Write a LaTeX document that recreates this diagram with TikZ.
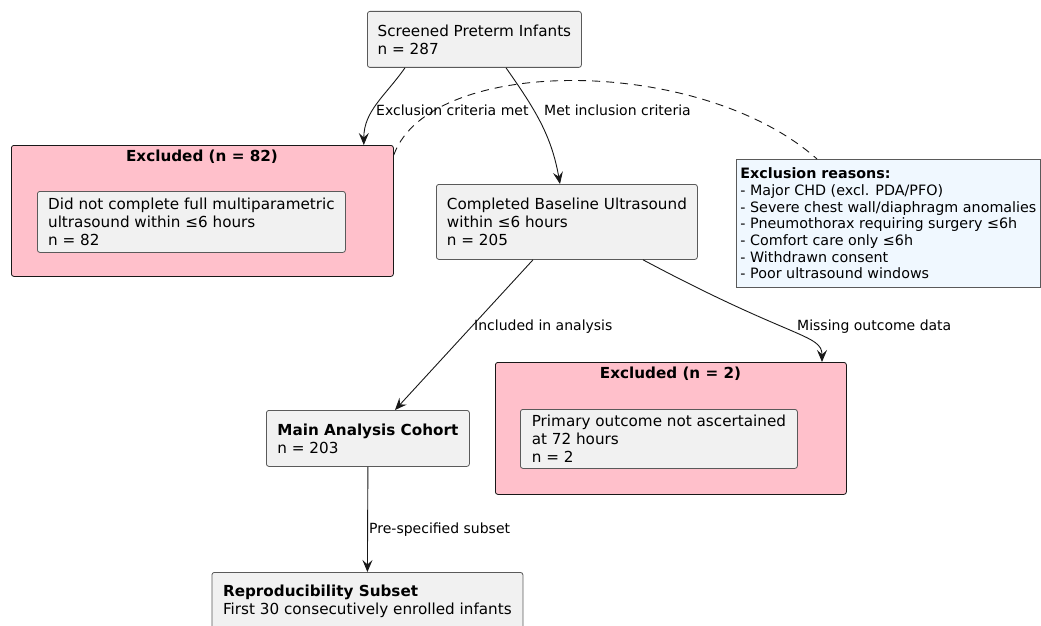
\documentclass[tikz,border=0pt]{standalone}
\usepackage{fontspec}
\setmainfont{DejaVu Sans}
\usetikzlibrary{calc}
\usetikzlibrary{arrows.meta}

\definecolor{boxfill}{HTML}{F1F1F1}
\definecolor{boxline}{HTML}{5A5A5A}
\definecolor{exclfill}{HTML}{FFC0CB}
\definecolor{notefill}{HTML}{F0F8FF}
\definecolor{flowline}{HTML}{181818}

\tikzset{
  box/.style={draw=boxline, fill=boxfill, rounded corners=2.5pt, line width=0.8pt,
    align=left, anchor=north west, inner sep=0pt, font=\fontsize{15.2}{18}\selectfont},
  exclbox/.style={draw=flowline, fill=exclfill, rounded corners=2.5pt, line width=0.8pt,
    anchor=north west, inner sep=0pt},
  notebox/.style={draw=boxline, fill=notefill, line width=0.8pt, align=left,
    anchor=north west, inner sep=0pt, font=\fontsize{14.3}{16.7}\selectfont},
  title/.style={font=\fontsize{15.2}{18}\selectfont\bfseries, inner sep=0pt},
  lbl/.style={font=\fontsize{14}{16}\selectfont, anchor=west, inner sep=0pt},
  flow/.style={draw=flowline, line width=0.9pt, -{Stealth[length=12pt,width=10pt,inset=4.5pt]}}
}

\begin{document}
\begin{tikzpicture}[x=1pt,y=1pt]
    \useasboundingbox (0,0) rectangle (1041,-626);

    \node[box, minimum width=214pt, minimum height=56pt] (scr) at (367,-11)
        {Screened Preterm Infants\\n = 287};

    \node[exclbox, minimum width=382pt, minimum height=131pt] (ex82) at (11,-145) {};
    \node[title] (ex82title) at (202,-157) {Excluded (n = 82)};
    \node[box, minimum width=308pt, minimum height=61pt] (ex82in) at (37,-191)
        {Did not complete full multiparametric\\ultrasound within ≤6 hours\\n = 82};

    \node[box, minimum width=261pt, minimum height=75pt] (comp) at (436,-184)
        {Completed Baseline Ultrasound\\within ≤6 hours\\n = 205};

    \node[notebox, minimum width=304pt, minimum height=128pt] (note) at (736,-159)
        {\textbf{Exclusion reasons:}\\- Major CHD (excl. PDA/PFO)\\- Severe chest wall/diaphragm anomalies\\- Pneumothorax requiring surgery ≤6h\\- Comfort care only ≤6h\\- Withdrawn consent\\- Poor ultrasound windows};

    \node[exclbox, minimum width=351pt, minimum height=132pt] (ex2) at (495,-362) {};
    \node[title] (ex2title) at (670.5,-374) {Excluded (n = 2)};
    \node[box, minimum width=277pt, minimum height=59pt] (ex2in) at (520,-409)
        {Primary outcome not ascertained\\at 72 hours\\n = 2};

    \node[box, minimum width=203pt, minimum height=56pt] (main) at (266,-410)
        {\textbf{Main Analysis Cohort}\\n = 203};

    \node[box, minimum width=311pt, minimum height=58pt] (repro) at (211.5,-572)
        {\textbf{Reproducibility Subset}\\First 30 consecutively enrolled infants};

    % connectors
    \draw[flow] ([xshift=38pt]scr.south west) to[out=-125,in=90] ([xshift=-30pt]ex82.north east);
    \draw[flow] ([xshift=139pt]scr.south west) to[out=-55,in=100] ([xshift=124pt]comp.north west);
    \draw[flow] ([xshift=97pt]comp.south west) -- ([xshift=129pt]main.north west);
    \draw[flow] ([xshift=207pt]comp.south west) .. controls +(150,-80) and +(0,28) .. ([xshift=327pt]ex2.north west);
    \draw[flow] (main.south) -- (repro.north);
    \draw[draw=flowline, line width=0.9pt, dash pattern=on 8pt off 6pt]
        ([yshift=-10pt]ex82.north east) .. controls +(36,100) and +(-117,104) .. ([xshift=81pt]note.north west);

    \node[lbl] (lexcl) at (376,-110) {Exclusion criteria met};
    \node[lbl] (lincl) at (544,-110) {Met inclusion criteria};
    \node[lbl] (lana) at (474,-327) {Included in analysis};
    \node[lbl] (lmiss) at (797,-327) {Missing outcome data};
    \node[lbl] (lsub) at (369,-530) {Pre-specified subset};
\end{tikzpicture}
\end{document}
